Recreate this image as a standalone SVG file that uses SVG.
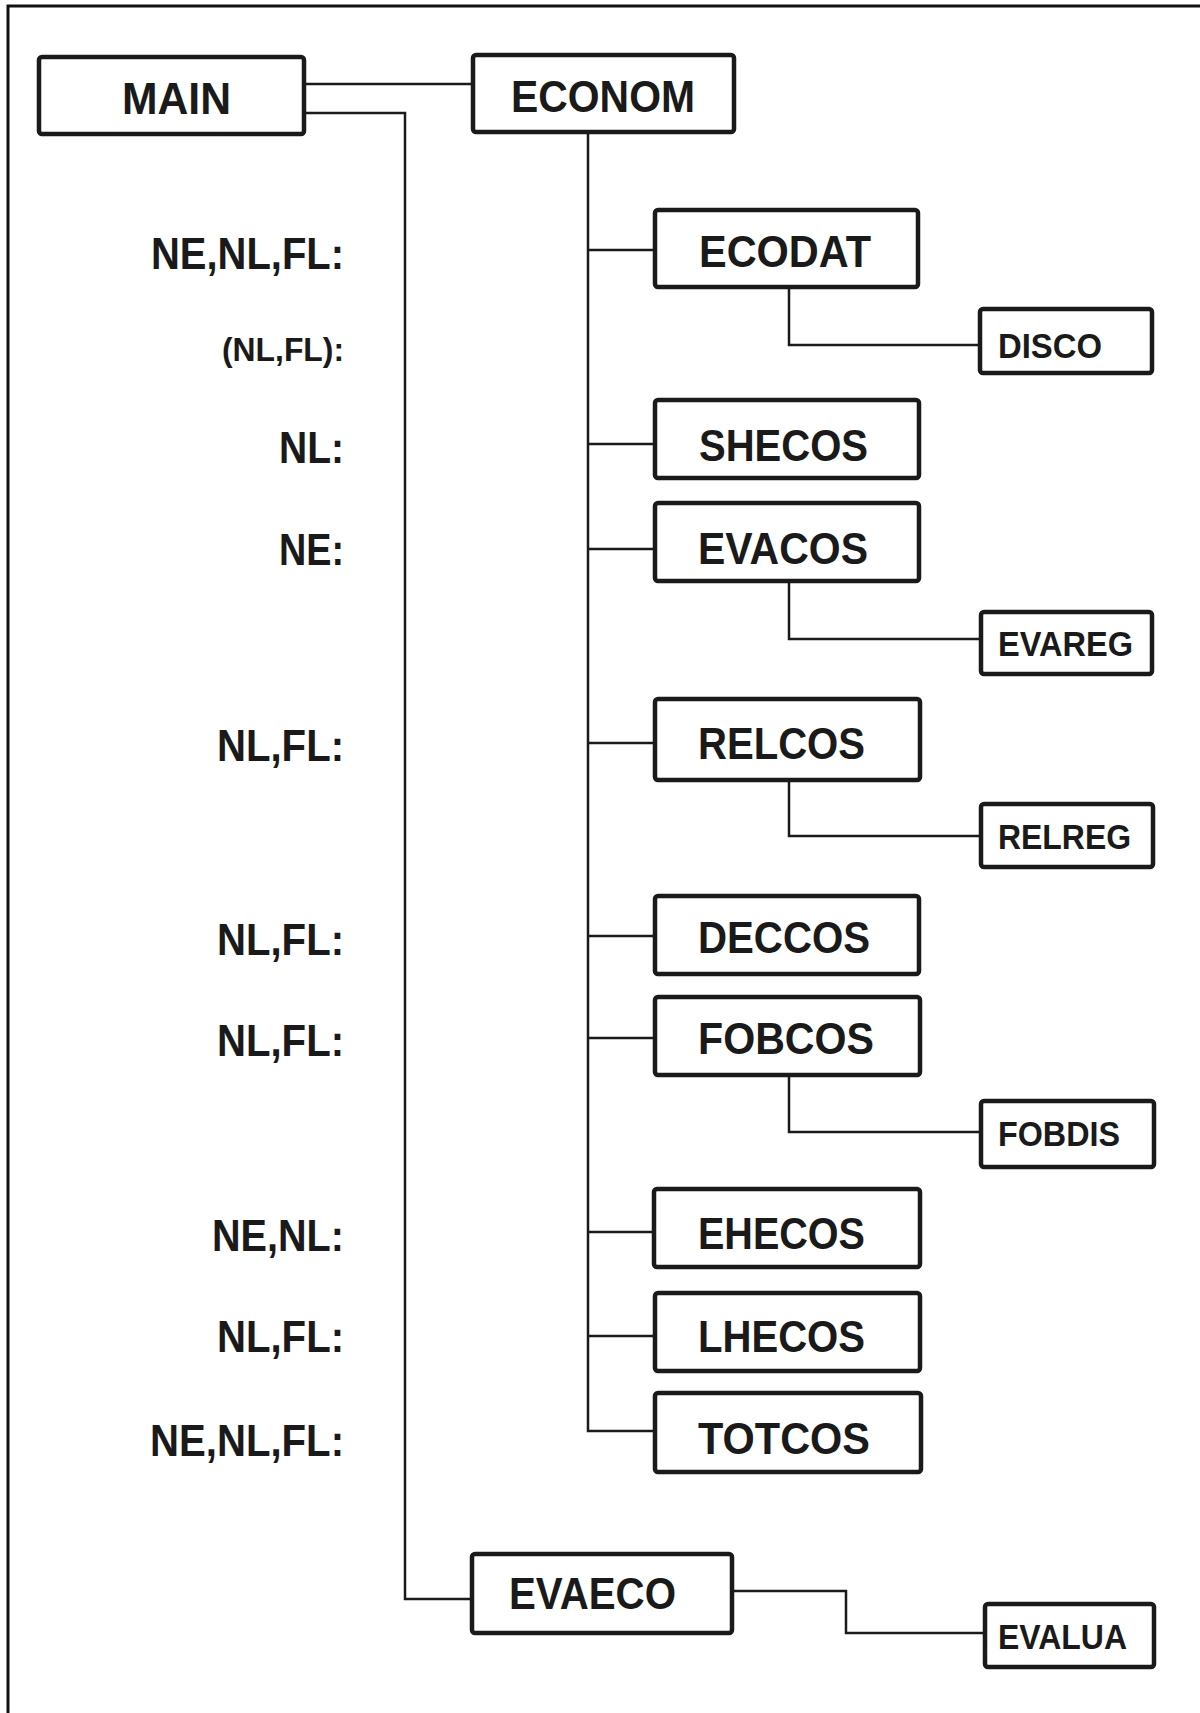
<svg xmlns="http://www.w3.org/2000/svg" width="1200" height="1713" viewBox="0 0 1200 1713">
<style>
.box{fill:#fff;stroke:#1a1a1a;stroke-width:4.5;rx:3}
.big{font-family:"Liberation Sans",Arial,sans-serif;font-weight:bold;font-size:45px;fill:#1a1a1a}
.sm{font-family:"Liberation Sans",Arial,sans-serif;font-weight:bold;font-size:35px;fill:#1a1a1a}
.lab{font-family:"Liberation Sans",Arial,sans-serif;font-weight:bold;font-size:45px;fill:#1a1a1a;text-anchor:end}
.lab2{font-family:"Liberation Sans",Arial,sans-serif;font-weight:bold;font-size:33px;fill:#1a1a1a;text-anchor:end}
.ln{fill:none;stroke:#1a1a1a;stroke-width:2.5}
.fr{fill:none;stroke:#111;stroke-width:3}
</style>
<rect width="1200" height="1713" fill="#fff"/>
<path class="fr" d="M8,1713 V6 H1200"/>
<g id="connectors">
<path class="ln" d="M304,84 H473"/>
<path class="ln" d="M304,113 H405 V1599 H472"/>
<path class="ln" d="M588,132 V1431 H655"/>
<path class="ln" d="M588,250 H655 M588,444 H655 M588,549 H655 M588,743 H655 M588,936 H655 M588,1038 H655 M588,1232 H654 M588,1336 H655"/>
<path class="ln" d="M789,287 V345 H980"/>
<path class="ln" d="M789,581 V639 H981"/>
<path class="ln" d="M789,780 V836 H981"/>
<path class="ln" d="M789,1075 V1132 H981"/>
<path class="ln" d="M732,1591 H846 V1633 H985"/>
</g>
<g id="labels">
<text class="lab" x="344" y="269" textLength="193" lengthAdjust="spacingAndGlyphs">NE,NL,FL:</text>
<text class="lab2" x="344" y="361" textLength="122" lengthAdjust="spacingAndGlyphs">(NL,FL):</text>
<text class="lab" x="344" y="463" textLength="65" lengthAdjust="spacingAndGlyphs">NL:</text>
<text class="lab" x="344" y="565" textLength="65" lengthAdjust="spacingAndGlyphs">NE:</text>
<text class="lab" x="344" y="761" textLength="127" lengthAdjust="spacingAndGlyphs">NL,FL:</text>
<text class="lab" x="344" y="955" textLength="127" lengthAdjust="spacingAndGlyphs">NL,FL:</text>
<text class="lab" x="344" y="1056" textLength="127" lengthAdjust="spacingAndGlyphs">NL,FL:</text>
<text class="lab" x="344" y="1251" textLength="132" lengthAdjust="spacingAndGlyphs">NE,NL:</text>
<text class="lab" x="344" y="1352" textLength="127" lengthAdjust="spacingAndGlyphs">NL,FL:</text>
<text class="lab" x="344" y="1456" textLength="194" lengthAdjust="spacingAndGlyphs">NE,NL,FL:</text>
</g>
<g id="MAIN"><rect class="box" x="39" y="57" width="265" height="77"/><text class="big" x="122" y="114" textLength="109" lengthAdjust="spacingAndGlyphs">MAIN</text></g>
<g id="ECONOM"><rect class="box" x="473" y="55" width="261" height="77"/><text class="big" x="511" y="112" textLength="184" lengthAdjust="spacingAndGlyphs">ECONOM</text></g>
<g id="ECODAT"><rect class="box" x="655" y="210" width="263" height="77"/><text class="big" x="699" y="267" textLength="172" lengthAdjust="spacingAndGlyphs">ECODAT</text></g>
<g id="DISCO"><rect class="box" x="980" y="309" width="172" height="64"/><text class="sm" x="998" y="358" textLength="104" lengthAdjust="spacingAndGlyphs">DISCO</text></g>
<g id="SHECOS"><rect class="box" x="655" y="400" width="264" height="78"/><text class="big" x="699" y="461" textLength="169" lengthAdjust="spacingAndGlyphs">SHECOS</text></g>
<g id="EVACOS"><rect class="box" x="655" y="503" width="264" height="78"/><text class="big" x="698" y="564" textLength="170" lengthAdjust="spacingAndGlyphs">EVACOS</text></g>
<g id="EVAREG"><rect class="box" x="981" y="612" width="171" height="62"/><text class="sm" x="998" y="656" textLength="135" lengthAdjust="spacingAndGlyphs">EVAREG</text></g>
<g id="RELCOS"><rect class="box" x="655" y="699" width="265" height="81"/><text class="big" x="698" y="759" textLength="167" lengthAdjust="spacingAndGlyphs">RELCOS</text></g>
<g id="RELREG"><rect class="box" x="981" y="804" width="172" height="63"/><text class="sm" x="998" y="849" textLength="133" lengthAdjust="spacingAndGlyphs">RELREG</text></g>
<g id="DECCOS"><rect class="box" x="655" y="896" width="264" height="78"/><text class="big" x="698" y="953" textLength="172" lengthAdjust="spacingAndGlyphs">DECCOS</text></g>
<g id="FOBCOS"><rect class="box" x="655" y="997" width="265" height="78"/><text class="big" x="698" y="1054" textLength="176" lengthAdjust="spacingAndGlyphs">FOBCOS</text></g>
<g id="FOBDIS"><rect class="box" x="981" y="1101" width="173" height="66"/><text class="sm" x="998" y="1146" textLength="122" lengthAdjust="spacingAndGlyphs">FOBDIS</text></g>
<g id="EHECOS"><rect class="box" x="654" y="1189" width="266" height="78"/><text class="big" x="698" y="1249" textLength="167" lengthAdjust="spacingAndGlyphs">EHECOS</text></g>
<g id="LHECOS"><rect class="box" x="655" y="1293" width="265" height="78"/><text class="big" x="698" y="1352" textLength="167" lengthAdjust="spacingAndGlyphs">LHECOS</text></g>
<g id="TOTCOS"><rect class="box" x="655" y="1393" width="266" height="79"/><text class="big" x="698" y="1454" textLength="172" lengthAdjust="spacingAndGlyphs">TOTCOS</text></g>
<g id="EVAECO"><rect class="box" x="472" y="1554" width="260" height="79"/><text class="big" x="509" y="1609" textLength="167" lengthAdjust="spacingAndGlyphs">EVAECO</text></g>
<g id="EVALUA"><rect class="box" x="985" y="1604" width="169" height="63"/><text class="sm" x="998" y="1649" textLength="129" lengthAdjust="spacingAndGlyphs">EVALUA</text></g>
</svg>
